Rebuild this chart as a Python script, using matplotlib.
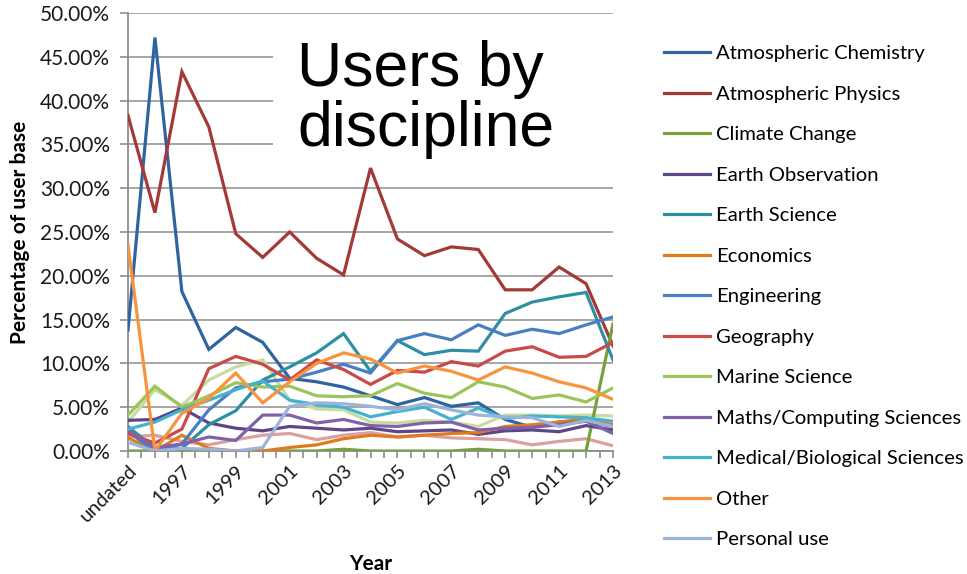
import matplotlib
matplotlib.use("Agg")
import matplotlib.pyplot as plt
from matplotlib.patches import Rectangle
from matplotlib.font_manager import FontProperties
from matplotlib.ticker import FuncFormatter, MultipleLocator, FixedLocator

# Categories along the x axis
categories = ["undated", "1996", "1997", "1998", "1999", "2000", "2001", "2002",
              "2003", "2004", "2005", "2006", "2007", "2008", "2009", "2010",
              "2011", "2012", "2013"]

# Share of users per discipline (percent)
atmospheric_chemistry = [13.8, 47.2, 18.2, 11.6, 14.1, 12.4, 8.3, 7.9, 7.3, 6.3,
                         5.3, 6.1, 5.1, 5.5, 3.6, 2.7, 3.3, 3.4, 2.8]
atmospheric_physics = [38.3, 27.2, 43.3, 37.0, 24.8, 22.1, 25.0, 22.0, 20.1, 32.3,
                       24.2, 22.3, 23.3, 23.0, 18.4, 18.4, 21.0, 19.1, 12.0]
climate_change = [0.0, 0.0, 0.0, 0.0, 0.0, 0.0, 0.0, 0.0, 0.2, 0.0,
                  0.0, 0.0, 0.0, 0.2, 0.0, 0.0, 0.0, 0.0, 14.5]
earth_observation = [3.5, 3.6, 4.9, 3.2, 2.6, 2.3, 2.8, 2.6, 2.4, 2.6,
                     2.2, 2.3, 2.4, 1.9, 2.3, 2.4, 2.2, 2.9, 2.4]
earth_science = [2.8, 0.3, 0.3, 3.0, 4.6, 8.1, 9.6, 11.2, 13.4, 9.1,
                 12.6, 11.0, 11.5, 11.4, 15.7, 17.0, 17.6, 18.1, 10.4]
economics = [1.5, 0.0, 1.8, 0.3, 0.0, 0.0, 0.4, 0.7, 1.4, 1.8,
             1.6, 1.8, 2.0, 2.1, 2.8, 3.0, 3.3, 3.7, 3.0]
engineering = [2.2, 0.0, 0.8, 4.7, 7.2, 7.9, 8.2, 9.0, 9.9, 8.9,
               12.6, 13.4, 12.7, 14.4, 13.2, 13.9, 13.4, 14.4, 15.3]
geography = [2.0, 0.9, 2.5, 9.4, 10.8, 9.9, 8.1, 10.4, 9.3, 7.6,
             9.2, 9.0, 10.2, 9.7, 11.4, 11.9, 10.7, 10.8, 12.4]
marine_science = [4.1, 7.4, 5.0, 6.3, 7.8, 7.3, 7.4, 6.3, 6.2, 6.3,
                  7.7, 6.6, 6.1, 7.9, 7.3, 6.0, 6.4, 5.6, 7.2]
maths_computing = [2.4, 0.4, 0.8, 1.6, 1.2, 4.1, 4.1, 3.2, 3.6, 2.9,
                   2.8, 3.2, 3.3, 2.4, 2.6, 2.7, 3.0, 3.4, 2.0]
medical_biological = [2.5, 3.3, 4.7, 5.8, 7.0, 8.0, 5.8, 5.3, 5.0, 3.9,
                      4.5, 5.0, 3.6, 4.9, 3.7, 4.0, 3.9, 3.8, 3.4]
other = [23.5, 0.0, 4.3, 6.0, 8.9, 5.5, 7.9, 10.0, 11.2, 10.5,
         8.9, 9.7, 9.1, 8.1, 9.6, 8.9, 7.9, 7.2, 5.9]
personal_use = [1.0, 0.0, 0.3, 0.2, 0.0, 0.4, 5.1, 5.5, 5.4, 5.1,
                4.7, 5.4, 4.7, 4.1, 3.9, 3.8, 2.8, 3.5, 2.8]
# two further series whose legend entries fall below the visible key
extra_pink = [1.6, 1.8, 1.1, 0.7, 1.3, 1.8, 2.0, 1.3, 1.8, 2.1,
              1.6, 1.8, 1.5, 1.4, 1.3, 0.7, 1.1, 1.4, 0.6]
extra_pale_green = [3.3, 7.0, 5.2, 8.1, 9.6, 10.4, 5.8, 4.8, 4.7, 3.3,
                    3.2, 3.5, 3.3, 2.8, 4.1, 4.1, 4.0, 4.1, 4.0]

series = [
    ("Atmospheric Chemistry", atmospheric_chemistry, "#2E64A0"),
    ("Atmospheric Physics", atmospheric_physics, "#A33A37"),
    ("Climate Change", climate_change, "#77A13C"),
    ("Earth Observation", earth_observation, "#5E4687"),
    ("Earth Science", earth_science, "#2D8FA3"),
    ("Economics", economics, "#E07A1E"),
    ("Engineering", engineering, "#4A7EC2"),
    ("Geography", geography, "#C84B48"),
    ("Marine Science", marine_science, "#9BC45A"),
    ("Maths/Computing Sciences", maths_computing, "#8162AA"),
    ("Medical/Biological Sciences", medical_biological, "#44B3CF"),
    ("Other", other, "#F7943D"),
    ("Personal use", personal_use, "#9DB4DA"),
]
extras = [(extra_pink, "#DBA0A0"), (extra_pale_green, "#C6DCA0")]

W, H = 967, 574
fig = plt.figure(figsize=(W / 100, H / 100), dpi=100)
ax = fig.add_axes([128 / W, 1 - 451 / H, (613 - 128) / W, (451 - 13) / H])

x = list(range(len(categories)))
lw = 2.3
handles = []
for name, vals, col in series:
    ln, = ax.plot(x, [v / 100 for v in vals], color=col, lw=lw, label=name,
                  solid_joinstyle="miter", zorder=3)
    handles.append(ln)
for vals, col in extras:
    ax.plot(x, [v / 100 for v in vals], color=col, lw=lw, zorder=2.5)

ax.set_xlim(0, len(categories) - 1)
ax.set_ylim(0, 0.5)
ax.yaxis.set_major_locator(MultipleLocator(0.05))
ax.yaxis.set_major_formatter(FuncFormatter(lambda v, p: f"{v * 100:.2f}%"))
ax.grid(axis="y", color="#A6A6A6", lw=1.4, zorder=0)
ax.set_axisbelow(True)

# label every other category, tick every half step
ax.xaxis.set_major_locator(FixedLocator(x[::2]))
ax.set_xticklabels(categories[::2])
ax.xaxis.set_minor_locator(MultipleLocator(0.5))

fam = ["Lato", "DejaVu Sans"]
for lab in ax.get_xticklabels():
    lab.set_rotation(45)
    lab.set_ha("right")
    lab.set_rotation_mode("anchor")
    lab.set_fontproperties(FontProperties(family=fam, size=14.5))
for lab in ax.get_yticklabels():
    lab.set_fontproperties(FontProperties(family=fam, size=15))

ax.tick_params(axis="both", which="both", color="#8C8C8C", width=1.2,
               direction="out", labelcolor="#1A1A1A")
ax.tick_params(axis="x", which="both", length=5, pad=3)
ax.tick_params(axis="y", length=6, pad=7)
for side in ("top", "right"):
    ax.spines[side].set_visible(False)
for side in ("left", "bottom"):
    ax.spines[side].set_color("#8C8C8C")
    ax.spines[side].set_linewidth(1.3)

ax.set_ylabel("Percentage of user base", family=fam, fontsize=15,
              fontweight="bold")
ax.yaxis.set_label_coords((30 - 128) / 485, 0.5)
ax.set_xlabel("Year", family=fam, fontsize=15, fontweight="bold")
ax.xaxis.set_label_coords(0.5, -0.235)

# white panel behind the title
ax.add_patch(Rectangle((0.299, 0.668), 0.75, 0.31, transform=ax.transAxes,
                       facecolor="white", edgecolor="none", zorder=1,
                       clip_on=False))
fig.text(297 / W, 1 - 40 / H, "Users by\ndiscipline",
         family=["Liberation Sans", "DejaVu Sans"], fontsize=45,
         va="top", ha="left", linespacing=1.02, color="black")

fig.legend(handles=handles, loc="upper left",
           bbox_to_anchor=(664 / W, 1 - 45 / H),
           prop=dict(family=fam, size=14.6),
           frameon=False, handlelength=2.25, handletextpad=0.3,
           labelspacing=1.15, borderpad=0, borderaxespad=0)

fig.savefig("out.png", dpi=100, facecolor="white")
